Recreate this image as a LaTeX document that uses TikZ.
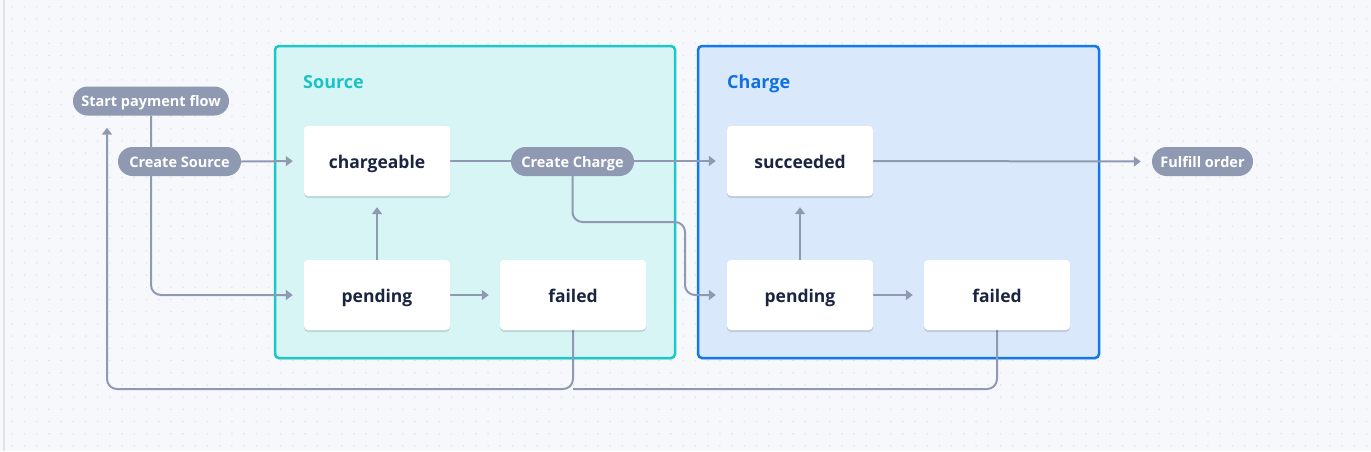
\documentclass[tikz,border=0pt]{standalone}
\usepackage{fontspec}
\setmainfont{Open Sans}
\usetikzlibrary{arrows.meta,shadows}
\definecolor{bgc}{HTML}{F6F8FB}
\definecolor{dotc}{HTML}{E2E6EB}
\definecolor{edgec}{HTML}{8F9AB2}
\definecolor{txtc}{HTML}{1B2541}
\definecolor{srcfill}{HTML}{D8F5F5}
\definecolor{srcline}{HTML}{1CC7C7}
\definecolor{srclabel}{HTML}{1CC3C6}
\definecolor{chgfill}{HTML}{D9E8FA}
\definecolor{chgline}{HTML}{1379E8}
\definecolor{chglabel}{HTML}{0F72E0}
\definecolor{leftline}{HTML}{E0E2E6}
\pgfdeclarelayer{bg}
\pgfdeclarelayer{edges}
\pgfsetlayers{bg,edges,main}
\tikzset{
  container/.style={draw, line width=2.5pt, rounded corners=4pt, minimum width=400pt, minimum height=312pt, inner sep=0pt,
    drop shadow={shadow xshift=0pt, shadow yshift=-2pt, opacity=0.08, fill=black}},
  clabel/.style={anchor=base west, inner sep=0pt, font=\fontsize{18}{21}\selectfont\bfseries},
  statebox/.style={fill=white, rounded corners=4pt, minimum width=146pt, minimum height=70pt, inner sep=0pt,
    text=txtc, font=\fontsize{17.5}{21}\selectfont\bfseries, text height=15.5pt, text depth=0pt,
    drop shadow={shadow xshift=0pt, shadow yshift=-2pt, opacity=0.12, fill=black}},
  pill/.style={rectangle, rounded corners=14.5pt, fill=edgec, text=white, minimum height=29pt, inner xsep=4pt, inner ysep=0pt,
    font=\fontsize{14.5}{18}\selectfont\bfseries, text height=11.6pt, text depth=0pt},
  edge/.style={draw=edgec, line width=2pt, rounded corners=10pt},
  arr/.style={edge, -{Triangle[length=7pt,width=10pt]}, shorten >=11pt},
}
\begin{document}
\begin{tikzpicture}[x=1pt,y=-1pt]
\useasboundingbox (0,0) rectangle (1371,451);
\begin{pgfonlayer}{bg}
\fill[bgc] (0,0) rectangle (1371,451);
\foreach \i in {0,...,111} {
  \foreach \j in {0,...,36} {
    \fill[dotc] ({12.2*\i+12.3},{12.2*\j+6.7}) circle (0.9);
  }
}
\draw[leftline, line width=1.2pt] (4,0) -- (4,451);
\node[container, draw=srcline, fill=srcfill] (srcbox) at (475,202) {};
\node[container, draw=chgline, fill=chgfill, minimum width=401pt] (chgbox) at (898.5,202) {};
\end{pgfonlayer}

\node[clabel, text=srclabel] (srclbl) at (303,88.5) {Source};
\node[clabel, text=chglabel] (chglbl) at (727,88.5) {Charge};

\node[statebox] (chargeable) at (377,161) {chargeable};
\node[statebox] (spend) at (377,295) {pending};
\node[statebox] (sfail) at (573,295) {failed};
\node[statebox] (succ) at (800,161) {succeeded};
\node[statebox] (cpend) at (800,295) {pending};
\node[statebox] (cfail) at (997,295) {failed};

\node[pill, minimum width=156pt] (spf) at (151,101) {Start payment flow};
\node[pill, minimum width=123pt] (cs) at (179.5,161.5) {Create Source};
\node[pill, minimum width=123pt] (cc) at (572.5,161.5) {Create Charge};
\node[pill, minimum width=101pt] (fo) at (1202.5,161.5) {Fulfill order};

\coordinate (j1) at (685,222);
\coordinate (loop) at (107,389);
\coordinate (merge) at (573,389);

\begin{pgfonlayer}{edges}
\draw[arr] (spf.south) |- (spend.west);
\draw[arr] (cs.east) -- (chargeable.west);
\draw[arr] (spend.north) -- (chargeable.south);
\draw[arr] (spend.east) -- (sfail.west);
\draw[arr] (chargeable.east) -- (succ.west);
\draw[arr] (cc.south) |- (j1) |- (cpend.west);
\draw[arr] (cpend.north) -- (succ.south);
\draw[arr] (cpend.east) -- (cfail.west);
\draw[arr] (succ.east) -- (fo.west);
\draw[edge] (cfail.south) |- (merge);
\draw[arr, shorten >=12pt] (sfail.south) |- (loop) -- (loop |- spf.south);
\end{pgfonlayer}
\end{tikzpicture}
\end{document}
